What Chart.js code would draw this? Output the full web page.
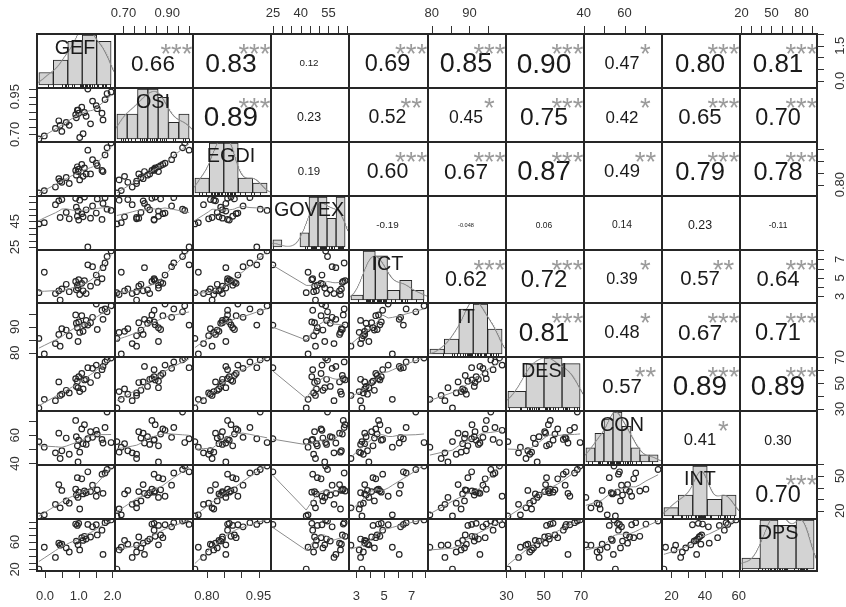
<!DOCTYPE html>
<html>
<head>
<meta charset="utf-8">
<title>Correlation matrix</title>
<script src="https://cdn.jsdelivr.net/npm/chart.js@4.4.1/dist/chart.umd.min.js"></script>
<style>
  body { margin: 0; background: #fff; }
  #grid { position: relative; width: 846px; height: 607px; overflow: hidden; background: #fff; }
  #grid canvas { position: absolute; }
</style>
</head>
<body>
<div id="grid"></div>
<script>
// one value per country, same country order in every array
const varNames = ['GEF', 'OSI', 'EGDI', 'GOVEX', 'ICT', 'IT', 'DESI', 'CON', 'INT', 'DPS'];
const gef   = [-0.18, -0.02, 0.31, 0.41, 0.45, 0.50, 0.63, 0.72, 0.91, 0.93, 0.96, 0.98, 1.00, 1.03, 1.09, 1.13, 1.17, 1.22, 1.27, 1.35, 1.41, 1.55, 1.52, 1.69, 1.72, 1.78, 1.84, 1.96];
const osi   = [0.67, 0.69, 0.74, 0.79, 0.76, 0.72, 0.78, 0.76, 0.83, 0.81, 0.86, 0.86, 0.84, 0.68, 0.88, 0.705, 0.845, 0.82, 1.00, 0.77, 0.92, 0.87, 0.89, 0.84, 0.796, 0.93, 0.97, 0.98];
const egdi  = [0.765, 0.775, 0.79, 0.825, 0.815, 0.81, 0.83, 0.805, 0.86, 0.84, 0.875, 0.855, 0.865, 0.82, 0.885, 0.835, 0.87, 0.845, 0.945, 0.845, 0.905, 0.88, 0.89, 0.86, 0.855, 0.925, 0.955, 0.975];
const govex = [43, 44, 58, 61, 48, 62, 52, 47, 63, 56, 49, 53, 46, 61.5, 51, 48.5, 64, 54, 25, 47.5, 57, 62.5, 51.5, 46.5, 59, 63.5, 54.5, 53.5];
const ict   = [3.4, 5.6, 3.3, 3.6, 2.6, 3.8, 4.3, 3.5, 4.6, 3.7, 4.2, 3.9, 4.8, 3.2, 4.4, 3.6, 4.7, 3.3, 6.4, 4.1, 6.2, 4.5, 5.3, 4.9, 6.1, 6.6, 7.3, 7.9];
const it    = [85.5, 79.5, 83.5, 87, 82.5, 89.2, 88.7, 86.5, 94.5, 91.3, 89.6, 84.3, 91.8, 87.8, 94.2, 88.2, 90.7, 92.4, 90.6, 91.5, 93.6, 88.9, 98.7, 96.3, 92.8, 96.8, 95.7, 98.0];
const desi  = [30.8, 37.5, 36.5, 51, 40.5, 41.5, 44.5, 42.5, 53.5, 47.5, 51.5, 46.5, 55, 43.5, 57.5, 45.5, 52.5, 53, 62, 50.5, 61.5, 56, 64, 60.5, 63, 66.5, 68, 69.5];
const con   = [55.5, 51.5, 47.5, 61.5, 43.5, 49, 58, 46.5, 70.5, 59, 52.5, 41, 56.5, 48, 64.5, 54, 67.5, 53.5, 57.5, 62.5, 58.5, 60.8, 63.5, 57, 54.5, 65.5, 76.5, 54.8];
const intg  = [15.5, 16.5, 25.5, 42.5, 22.5, 37.5, 28.5, 26.5, 38.5, 33.5, 48.5, 31.5, 36, 21.5, 47.5, 34.5, 37, 35.5, 53.5, 36.5, 42, 38, 32.5, 51.5, 35, 52.5, 55.5, 58.5];
const dps   = [20.5, 52.5, 37.5, 58.5, 55.5, 57, 51.5, 45.5, 86.5, 61.5, 84.5, 56, 87.5, 48.5, 66.5, 62.5, 68.5, 64.5, 86, 67.5, 82.5, 70.5, 85.5, 77.5, 42, 88.5, 91, 92.5];
const series = [gef, osi, egdi, govex, ict, it, desi, con, intg, dps];

// upper triangle, row by row
const corrText = [
  ['0.66', '0.83', '0.12', '0.69', '0.85', '0.90', '0.47', '0.80', '0.81'],
  ['0.89', '0.23', '0.52', '0.45', '0.75', '0.42', '0.65', '0.70'],
  ['0.19', '0.60', '0.67', '0.87', '0.49', '0.79', '0.78'],
  ['-0.19', '-0.048', '0.06', '0.14', '0.23', '-0.11'],
  ['0.62', '0.72', '0.39', '0.57', '0.64'],
  ['0.81', '0.48', '0.67', '0.71'],
  ['0.57', '0.89', '0.89'],
  ['0.41', '0.30'],
  ['0.70']
];
const corrStars = [
  ['***', '***', '', '***', '***', '***', '*', '***', '***'],
  ['***', '', '**', '*', '***', '*', '***', '***'],
  ['', '***', '***', '***', '**', '***', '***'],
  ['', '', '', '', '', ''],
  ['***', '***', '*', '**', '***'],
  ['***', '*', '***', '***'],
  ['**', '***', '***'],
  ['*', ''],
  ['***']
];

// histogram breaks
const histFrom = [-0.5, 0.65, 0.75, 25, 2, 75, 30, 40, 10, 20];
const histTo   = [2.0, 1.00, 1.00, 65, 8, 100, 70, 80, 60, 100];
const histStep = [0.5, 0.05, 0.05, 5, 1, 5, 10, 5, 10, 20];

// outer axes: tick positions, labels printed along columns / rows
const axisTicks = [
  [0, 0.5, 1, 1.5, 2],
  [0.70, 0.75, 0.80, 0.85, 0.90, 0.95, 1.00],
  [0.80, 0.85, 0.90, 0.95],
  [25, 30, 35, 40, 45, 50, 55, 60, 65],
  [3, 4, 5, 6, 7, 8],
  [80, 85, 90, 95],
  [30, 40, 50, 60, 70],
  [40, 50, 60, 70],
  [20, 30, 40, 50, 60],
  [20, 30, 40, 50, 60, 70, 80, 90]
];
const colLabels = [['0.0', '1.0', '2.0'], ['0.70', '0.90'], ['0.80', '0.95'], ['25', '40', '55'], ['3', '5', '7'],
                   ['80', '90'], ['30', '50', '70'], ['40', '60'], ['20', '40', '60'], ['20', '50', '80']];
const rowLabels = [['0.0', '1.5'], ['0.70', '0.95'], ['0.80'], ['25', '45'], ['3', '5', '7'],
                   ['80', '90'], ['30', '50', '70'], ['40', '60'], ['20', '50'], ['20', '60']];

const N = varNames.length;
const FONT = '"Liberation Sans", Arial, sans-serif';
const INK = '#262626', GREY = '#8c8c8c';
const X0 = 36, Y0 = 33.3, PW = 78.1, PH = 53.8;
const edgeX = k => Math.round(X0 + k * PW);
const edgeY = k => Math.round(Y0 + k * PH);

function padded(lo, hi) { const d = (hi - lo) * 0.04; return [lo - d, hi + d]; }
function dataRange(v) { return padded(Math.min(...v), Math.max(...v)); }

function quantile(s, p) {
  const h = (s.length - 1) * p, lo = Math.floor(h);
  return s[lo] + (h - lo) * ((lo + 1 < s.length ? s[lo + 1] : s[lo]) - s[lo]);
}

// gaussian kernel density, bw.nrd0
function density(v) {
  const n = v.length, mean = v.reduce((s, x) => s + x, 0) / n;
  const sd = Math.sqrt(v.reduce((s, x) => s + (x - mean) ** 2, 0) / (n - 1));
  const s = [...v].sort((a, b) => a - b);
  const iqr = quantile(s, 0.75) - quantile(s, 0.25);
  const bw = 0.9 * Math.min(sd, iqr / 1.34 || sd) * Math.pow(n, -0.2);
  const lo = s[0] - 3 * bw, hi = s[n - 1] + 3 * bw, out = [];
  for (let k = 0; k < 512; k++) {
    const x = lo + (hi - lo) * k / 511;
    let d = 0;
    for (const xi of v) d += Math.exp(-0.5 * ((x - xi) / bw) ** 2);
    out.push({ x, y: d / (n * bw * Math.sqrt(2 * Math.PI)) });
  }
  return out;
}

// lowess smoother (same steps as R's clowess)
function lowess(xv, yv, f, iter) {
  const n = xv.length;
  const ord = xv.map((_, i) => i).sort((a, b) => xv[a] - xv[b]);
  const x = ord.map(i => xv[i]), y = ord.map(i => yv[i]);
  const ns = Math.max(Math.min(Math.floor(f * n + 1e-7), n), 2);
  const fit = new Array(n).fill(0), rw = new Array(n).fill(1), w = new Array(n).fill(0);
  const span = x[n - 1] - x[0];
  for (let itr = 0; itr <= iter; itr++) {
    let nl = 0, nr = ns - 1;
    for (let i = 0; i < n; i++) {
      while (nr < n - 1 && x[i] - x[nl] > x[nr + 1] - x[i]) { nl++; nr++; }
      const h = Math.max(x[i] - x[nl], x[nr] - x[i]);
      const h9 = 0.999 * h, h1 = 0.001 * h;
      let a = 0, last = nl - 1;
      for (let j = nl; j < n; j++) {
        w[j] = 0;
        const d = Math.abs(x[j] - x[i]);
        if (d <= h9) {
          w[j] = (d <= h1 ? 1 : Math.pow(1 - Math.pow(d / h, 3), 3)) * rw[j];
          a += w[j]; last = j;
        } else if (x[j] > x[i]) break;
      }
      if (a <= 0) { fit[i] = y[i]; continue; }
      for (let k = nl; k <= last; k++) w[k] /= a;
      if (h > 0) {
        let xm = 0, cc = 0;
        for (let k = nl; k <= last; k++) xm += w[k] * x[k];
        for (let k = nl; k <= last; k++) cc += w[k] * (x[k] - xm) ** 2;
        if (Math.sqrt(cc) > 0.001 * span) {
          const b = (x[i] - xm) / cc;
          for (let k = nl; k <= last; k++) w[k] *= b * (x[k] - xm) + 1;
        }
      }
      let s = 0;
      for (let k = nl; k <= last; k++) s += w[k] * y[k];
      fit[i] = s;
    }
    if (itr === iter) break;
    const res = y.map((v, i) => v - fit[i]);
    const ar = res.map(Math.abs).sort((p, q) => p - q);
    const m = n >> 1;
    const cmad = n % 2 ? 6 * ar[m] : 3 * (ar[m - 1] + ar[m]);
    if (cmad < 1e-7 * ar.reduce((s, v) => s + v, 0) / n) break;
    const c9 = 0.999 * cmad, c1 = 0.001 * cmad;
    for (let i = 0; i < n; i++) {
      const r = Math.abs(res[i]);
      rw[i] = r <= c1 ? 1 : r <= c9 ? (1 - (r / cmad) ** 2) ** 2 : 0;
    }
  }
  return x.map((v, i) => ({ x: v, y: fit[i] }));
}

const meas = document.createElement('canvas').getContext('2d');
meas.font = '100px ' + FONT;
const labelFs = 100 * 0.9 * PW / Math.max(...varNames.map(s => meas.measureText(s).width));

function drawAxis(chart, ax) {
  const ctx = chart.ctx, a = chart.chartArea, xs = chart.scales.x, ys = chart.scales.y;
  const horiz = ax.side === 'top' || ax.side === 'bottom';
  const scale = horiz ? xs : ys;
  ctx.strokeStyle = '#333'; ctx.fillStyle = '#333'; ctx.lineWidth = 1;
  ctx.font = '13px ' + FONT;
  ctx.textAlign = 'center'; ctx.textBaseline = 'alphabetic';
  ctx.beginPath();
  axisTicks[ax.v].forEach(t => {
    const p = Math.round(scale.getPixelForValue(t)) + 0.5;
    if (ax.side === 'top') { ctx.moveTo(p, a.top); ctx.lineTo(p, a.top - 7); }
    if (ax.side === 'bottom') { ctx.moveTo(p, a.bottom); ctx.lineTo(p, a.bottom + 7); }
    if (ax.side === 'left') { ctx.moveTo(a.left, p); ctx.lineTo(a.left - 7, p); }
    if (ax.side === 'right') { ctx.moveTo(a.right, p); ctx.lineTo(a.right + 7, p); }
  });
  ctx.stroke();
  const labels = horiz ? colLabels[ax.v] : rowLabels[ax.v];
  labels.forEach(L => {
    const p = scale.getPixelForValue(Number(L));
    if (ax.side === 'top') ctx.fillText(L, p, a.top - 16.5);
    else if (ax.side === 'bottom') ctx.fillText(L, p, a.bottom + 28.5);
    else {
      ctx.save();
      ctx.translate(ax.side === 'left' ? a.left - 17.5 : a.right + 27, p);
      ctx.rotate(-Math.PI / 2);
      ctx.fillText(L, 0, 0);
      ctx.restore();
    }
  });
}

function decorate(chart, p) {
  const ctx = chart.ctx, a = chart.chartArea, xs = chart.scales.x;
  const W = a.right - a.left, H = a.bottom - a.top;
  ctx.save();
  ctx.textAlign = 'center'; ctx.textBaseline = 'alphabetic';
  if (p.kind === 'upper') {
    ctx.save();
    ctx.beginPath(); ctx.rect(a.left, a.top, W, H); ctx.clip();
    ctx.font = '100px ' + FONT;
    const base = 100 * 0.76 * W / ctx.measureText(p.text).width;
    const fs = base * (Math.abs(Number(p.text)) + 0.3) / 1.3;
    ctx.font = fs + 'px ' + FONT; ctx.fillStyle = '#1a1a1a';
    ctx.fillText(p.text, a.left + W / 2, a.top + H / 2 + 2.5 + 0.358 * fs);
    if (p.stars) {
      const sf = base * 0.9;
      ctx.font = sf + 'px ' + FONT; ctx.fillStyle = '#9b9b9b';
      ctx.fillText(p.stars, a.left + 0.8 * W, a.top + 0.26 * H + 0.58 * sf);
    }
    ctx.restore();
  }
  if (p.kind === 'diag') {
    ctx.strokeStyle = INK; ctx.lineWidth = 1;
    ctx.beginPath();
    p.values.forEach(v => {
      const x = Math.round(xs.getPixelForValue(v)) + 0.5;
      ctx.moveTo(x, a.bottom); ctx.lineTo(x, a.bottom - 2.5);
    });
    ctx.stroke();
    ctx.font = labelFs + 'px ' + FONT; ctx.fillStyle = '#1a1a1a';
    ctx.fillText(p.name, a.left + W / 2, a.top + 0.26 * H + 0.358 * labelFs);
  }
  // panel box: 2px where neighbours meet (left/top here, right/bottom from the neighbour)
  ctx.fillStyle = INK;
  ctx.fillRect(a.left, a.top, W + 1, 2);
  ctx.fillRect(a.left, a.top, 2, H + 1);
  ctx.fillRect(a.left, a.bottom - (p.lastRow ? 1 : 0), W + 1, p.lastRow ? 2 : 1);
  ctx.fillRect(a.right - (p.lastCol ? 1 : 0), a.top, p.lastCol ? 2 : 1, H + 1);
  p.axes.forEach(ax => drawAxis(chart, ax));
  ctx.restore();
}

const grid = document.getElementById('grid');

function makePanel(r, c) {
  const left = edgeX(c), top = edgeY(r);
  const w = edgeX(c + 1) - left, h = edgeY(r + 1) - top;
  const axes = [];
  if (r === 0 && c % 2 === 1) axes.push({ side: 'top', v: c });
  if (r === N - 1 && c % 2 === 0) axes.push({ side: 'bottom', v: c });
  if (c === 0 && r % 2 === 1) axes.push({ side: 'left', v: r });
  if (c === N - 1 && r % 2 === 0) axes.push({ side: 'right', v: r });
  const room = { top: 33, bottom: 36, left: 36, right: 30 };
  const pad = { top: 0, bottom: 0, left: 0, right: 0 };
  axes.forEach(ax => {
    pad[ax.side] = room[ax.side];
    if (ax.side === 'top' || ax.side === 'bottom') {
      pad.left = Math.max(pad.left, 16); pad.right = Math.max(pad.right, 16);
    } else {
      pad.top = Math.max(pad.top, 16); pad.bottom = Math.max(pad.bottom, 16);
    }
  });

  const cv = document.createElement('canvas');
  cv.width = w + 1 + pad.left + pad.right;
  cv.height = h + 1 + pad.top + pad.bottom;
  cv.style.left = (left - pad.left) + 'px';
  cv.style.top = (top - pad.top) + 'px';
  grid.appendChild(cv);

  const info = { axes, lastRow: r === N - 1, lastCol: c === N - 1 };
  let type = 'scatter', datasets = [], xr, yr;
  if (r === c) {
    const v = series[c], from = histFrom[c], step = histStep[c];
    const nb = Math.round((histTo[c] - from) / step);
    const counts = new Array(nb).fill(0);
    v.forEach(x => {
      const k = Math.ceil((x - from) / step - 1e-9) - 1;
      counts[Math.min(nb - 1, Math.max(0, k))]++;
    });
    const bars = counts.map((n, k) => ({ x: from + (k + 0.5) * step, y: n / (v.length * step) }));
    const maxD = Math.max(...bars.map(b => b.y));
    xr = padded(from, histTo[c]);
    yr = padded(0, maxD);
    type = 'bar';
    datasets = [
      { type: 'line', data: density(v), borderColor: GREY, borderWidth: 1, pointRadius: 0, fill: false },
      { type: 'bar', data: bars, backgroundColor: '#d3d3d3', borderColor: INK, borderWidth: 1,
        borderSkipped: false, barPercentage: 1, categoryPercentage: 1 }
    ];
    Object.assign(info, { kind: 'diag', name: varNames[c], values: v });
  } else {
    xr = dataRange(series[c]);
    yr = dataRange(series[r]);
    if (r > c) {
      const pts = series[c].map((x, i) => ({ x, y: series[r][i] }));
      datasets = [
        { type: 'line', data: lowess(series[c], series[r], 2 / 3, 3), borderColor: GREY, borderWidth: 1,
          pointRadius: 0, showLine: true, fill: false },
        { data: pts, pointRadius: 2.8, pointBorderWidth: 1.2, pointBorderColor: '#262626',
          pointBackgroundColor: 'rgba(0,0,0,0)' }
      ];
      info.kind = 'lower';
    } else {
      Object.assign(info, { kind: 'upper', text: corrText[r][c - r - 1], stars: corrStars[r][c - r - 1] });
    }
  }

  new Chart(cv, {
    type,
    data: { datasets },
    options: {
      responsive: false,
      animation: false,
      events: [],
      devicePixelRatio: 1,
      layout: {
        autoPadding: false,
        padding: { left: pad.left, right: pad.right + 1, top: pad.top, bottom: pad.bottom + 1 }
      },
      scales: {
        x: { type: 'linear', display: false, offset: false, min: xr[0], max: xr[1] },
        y: { type: 'linear', display: false, min: yr[0], max: yr[1] }
      },
      plugins: { legend: { display: false }, tooltip: { enabled: false } }
    },
    plugins: [{ id: 'panel', afterDatasetsDraw: chart => decorate(chart, info) }]
  });
}

for (let r = 0; r < N; r++) {
  for (let c = 0; c < N; c++) makePanel(r, c);
}
</script>
</body>
</html>
